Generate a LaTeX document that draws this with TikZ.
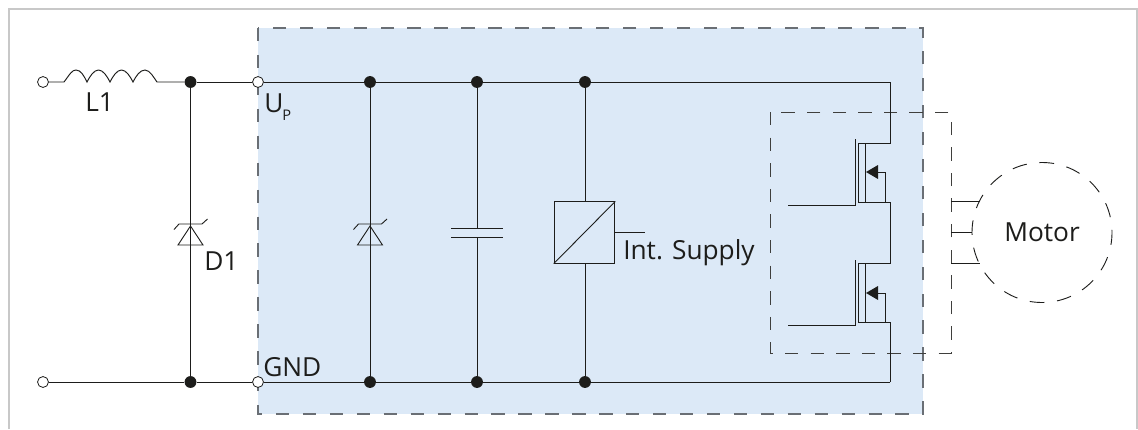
\documentclass[tikz,border=0pt]{standalone}
\usepackage{fontspec}
\setmainfont{Open Sans}
\definecolor{boxblue}{HTML}{DCE9F7}
\definecolor{ink}{HTML}{1D1D1B}
\definecolor{framegray}{HTML}{C8C8C8}
\definecolor{dashgray}{HTML}{6A6F75}
\tikzset{
  wire/.style={draw=ink,line width=0.72pt,line join=miter},
  thinwire/.style={draw=ink,line width=0.68pt},
  terminal/.style={circle,draw=ink,fill=white,line width=0.6pt,minimum size=8.2pt,inner sep=0pt},
  junction/.style={circle,fill=ink,minimum size=8.9pt,inner sep=0pt},
  label/.style={font=\fontsize{19.7pt}{21pt}\selectfont,text=ink,inner sep=0pt,anchor=base west},
  bluedash/.style={draw=dashgray,line width=1.15pt,dash pattern=on 10pt off 10.2pt},
  innerdash/.style={draw=ink!85,line width=0.72pt,dash pattern=on 10pt off 9.2pt},
  motordash/.style={circle,draw=ink,line width=0.68pt,dash pattern=on 11pt off 9.6pt,dash phase=9pt,minimum size=105pt,inner sep=0pt,font=\fontsize{19.7pt}{21pt}\selectfont,text=ink},
}
\begin{document}
\begin{tikzpicture}[x=0.75pt,y=-0.75pt]
\useasboundingbox (0,0) rectangle (1138,429);
\fill[white] (0,0) rectangle (1138,429);
\draw[framegray,line width=1.3pt] (9,429) -- (9,9) -- (1137,9) -- (1137,429);
% module box
\coordinate (mA) at (258,28); \coordinate (mB) at (923,414);
\fill[boxblue] (mA) rectangle (mB);
\draw[bluedash] (mA) rectangle (mB);
% power stage box
\coordinate (pA) at (770,112); \coordinate (pB) at (951,353);
\draw[innerdash] (pA) rectangle (pB);
% nodes on rails
\node[terminal] (inT) at (43,82) {};
\node[terminal] (inB) at (43,382) {};
\coordinate (lA) at (64,82); \coordinate (lB) at (157,82);
\node[junction] (j1T) at (190.5,82) {};
\node[junction] (j1B) at (190.5,382) {};
\node[terminal] (upT) at (258,82) {};
\node[terminal] (gnd) at (258,382) {};
\node[junction] (j2T) at (370,82) {};
\node[junction] (j2B) at (370,382) {};
\node[junction] (j3T) at (477,82) {};
\node[junction] (j3B) at (477,382) {};
\node[junction] (j4T) at (585,82) {};
\node[junction] (j4B) at (585,382) {};
\coordinate (cornT) at (890,82); \coordinate (cornB) at (890,382);
% inductor
\draw[wire] (inT) -- (lA)
  .. controls (70,74) and (72,70) .. (76,70) .. controls (81,70) and (84,76) .. (87,82)
  .. controls (90,76) and (94,70) .. (98.5,70) .. controls (103,70) and (107,76) .. (110,82)
  .. controls (113,76) and (117,70) .. (121.5,70) .. controls (126,70) and (130,76) .. (133,82)
  .. controls (136,76) and (140,70) .. (145,70) .. controls (150,70) and (154,78) .. (lB)
  -- (j1T);
% rails
\draw[wire] (j1T) -- (upT);
\draw[wire] (upT) -- (j2T);
\draw[wire] (j2T) -- (j3T);
\draw[wire] (j3T) -- (j4T);
\draw[wire] (inB) -- (j1B);
\draw[wire] (j1B) -- (gnd);
\draw[wire] (gnd) -- (j2B);
\draw[wire] (j2B) -- (j3B);
\draw[wire] (j3B) -- (j4B);
% verticals
\draw[wire] (j1T) -- (j1B);
\draw[wire] (j2T) -- (j2B);
% zener diodes
\foreach \zx in {190.5,370}{
  \draw[thinwire,line join=miter] (\zx,226) -- (\zx-12.5,245) -- (\zx+12.5,245) -- cycle;
  \draw[thinwire] (\zx-16.5,229.5) -- (\zx-11.5,224) -- (\zx+11.5,224) -- (\zx+17,219);
}
% capacitor
\coordinate (capT) at (477,228); \coordinate (capB) at (477,237);
\draw[wire] (j3T) -- (capT);
\draw[wire] (capB) -- (j3B);
\draw[wire] (451,228) -- (503,228);
\draw[wire] (451,237) -- (503,237);
% DC/DC converter
\node[draw=ink,line width=0.72pt,minimum width=45.5pt,minimum height=46pt,inner sep=0pt] (conv) at (584.5,232.5) {};
\draw[thinwire] (conv.south west) -- (conv.north east);
\draw[wire] (j4T) -- (585,201.7);
\draw[wire] (585,263.3) -- (j4B);
\coordinate (convOut) at (645,232.5);
\draw[thinwire] (conv.east) -- (convOut);
% MOSFETs
\coordinate (dU) at (890,143); \coordinate (mid) at (890,202); \coordinate (dL) at (890,263);
\draw[wire] (j4T) -- (cornT) -- (dU) -- (858,143);
\draw[wire] (mid) -- (858,202) -- (858,143);
\draw[wire] (865.5,143) -- (865.5,202);
\draw[wire] (788,205) -- (855,205) -- (855,139);
\draw[thinwire] (878,172) -- (885.5,172) -- (885.5,202);
\fill[ink] (866,172) -- (878,165) -- (878,179) -- cycle;
\draw[wire] (mid) -- (dL) -- (858,263);
\draw[wire] (cornB) -- (890,322) -- (858,322) -- (858,263);
\draw[wire] (865.5,263) -- (865.5,322);
\draw[wire] (788,325) -- (855,325) -- (855,260);
\draw[thinwire] (878,293) -- (885.5,293) -- (885.5,322);
\fill[ink] (866,293) -- (878,286) -- (878,300) -- cycle;
\draw[wire] (j4B) -- (cornB);
% motor
\node[motordash,text width=80pt,align=center] (motor) at (1042,232.5) {Motor};
\draw[thinwire] (951,201.7) -- (980,201.7);
\draw[thinwire] (951,232.5) -- (972,232.5);
\draw[thinwire] (951,263.7) -- (980,263.7);
% labels
\node[label] (tL) at (85,111.5) {L1};
\node[label] (tU) at (264,112) {U};
\node[label,font=\fontsize{11pt}{12pt}\selectfont] (tP) at (282,120) {P};
\node[label] (tD) at (204,270) {D1};
\node[label] (tG) at (263,376) {GND};
\node[label] (tS) at (623,259) {Int. Supply};
\end{tikzpicture}
\end{document}
